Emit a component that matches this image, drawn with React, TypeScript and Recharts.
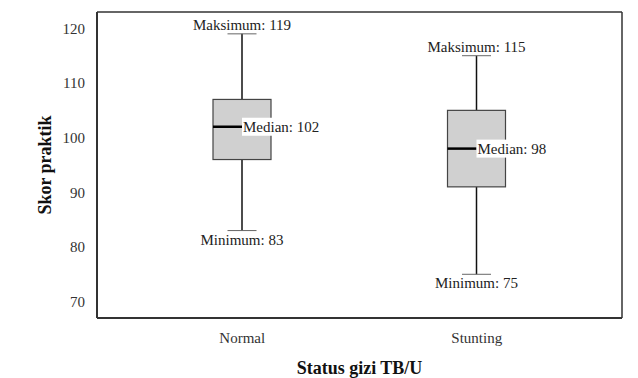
import { ComposedChart, Bar, Line, XAxis, YAxis } from "recharts";

const CATEGORIES = ["Normal", "Stunting"];
const MINIMUM = [83, 75];
const Q1 = [96, 91];
const MEDIAN = [102, 98];
const Q3 = [107, 105];
const MAXIMUM = [119, 115];
const Y_TICKS = [70, 80, 90, 100, 110, 120];
const Y_DOMAIN = [67, 123];

const FONT = "'Liberation Serif', 'Times New Roman', serif";

const data = CATEGORIES.map((name, i) => ({
  name,
  min: MINIMUM[i],
  q1: Q1[i],
  median: MEDIAN[i],
  q3: Q3[i],
  max: MAXIMUM[i],
  base: MINIMUM[i],
  span: MAXIMUM[i] - MINIMUM[i],
}));

// the stacked "span" bar covers min..max, so its height gives the pixels per unit
function BoxShape(props: any) {
  const { x, y, width, height, payload } = props;
  const { min, q1, median, q3, max } = payload;
  const ppu = height / (max - min);
  const yOf = (v: number) => y + (max - v) * ppu;
  const cx = x + width / 2;
  const capW = width / 2;
  const medY = yOf(median);
  const label = `Median: ${median}`;
  const labelW = label.length * 7 + 4;
  return (
    <g>
      <line x1={cx} x2={cx} y1={yOf(max)} y2={yOf(q3)} stroke="#111" strokeWidth={1.5} />
      <line x1={cx} x2={cx} y1={yOf(q1)} y2={yOf(min)} stroke="#111" strokeWidth={1.5} />
      <line x1={cx - capW / 2} x2={cx + capW / 2} y1={yOf(max)} y2={yOf(max)} stroke="#666" strokeWidth={1} />
      <line x1={cx - capW / 2} x2={cx + capW / 2} y1={yOf(min)} y2={yOf(min)} stroke="#666" strokeWidth={1} />
      <rect
        x={x}
        y={yOf(q3)}
        width={width}
        height={yOf(q1) - yOf(q3)}
        fill="#d0d0d0"
        stroke="#444"
        strokeWidth={1.2}
      />
      <line x1={x} x2={cx} y1={medY} y2={medY} stroke="#000" strokeWidth={2.5} />
      <rect x={cx} y={medY - 9} width={labelW} height={18} fill="#fff" />
      <text x={cx + 1} y={medY} dy={5} fontFamily={FONT} fontSize={15} fill="#222">
        {label}
      </text>
      <text x={cx} y={yOf(max)} dy={-4} textAnchor="middle" fontFamily={FONT} fontSize={15} fill="#222">
        {`Maksimum: ${max}`}
      </text>
      <text x={cx} y={yOf(min)} dy={14} textAnchor="middle" fontFamily={FONT} fontSize={15} fill="#222">
        {`Minimum: ${min}`}
      </text>
    </g>
  );
}

export default function App() {
  return (
    <div style={{ position: "absolute", left: 0, top: 0, background: "#fff" }}>
      <ComposedChart
        width={638}
        height={378}
        data={data}
        margin={{ top: 11, right: 15, bottom: 0, left: 0 }}
      >
        <XAxis
          dataKey="name"
          padding={{ left: 28, right: 28 }}
          height={60}
          tickLine={false}
          axisLine={{ stroke: "#333", strokeWidth: 2 }}
          tick={{ fontFamily: FONT, fontSize: 15, fill: "#333" }}
          tickMargin={8}
          label={{
            value: "Status gizi TB/U",
            position: "insideBottom",
            offset: 4,
            style: { fontFamily: FONT, fontSize: 18, fontWeight: "bold", fill: "#111" },
          }}
        />
        <XAxis
          xAxisId="top"
          dataKey="name"
          orientation="top"
          height={1}
          tick={false}
          tickLine={false}
          axisLine={{ stroke: "#333", strokeWidth: 1.5 }}
        />
        <YAxis
          domain={Y_DOMAIN}
          allowDataOverflow
          ticks={Y_TICKS}
          width={97}
          tickLine={false}
          axisLine={{ stroke: "#333", strokeWidth: 2 }}
          tick={{ fontFamily: FONT, fontSize: 15, fill: "#333" }}
          tickMargin={6}
          label={{
            value: "Skor praktik",
            angle: -90,
            position: "insideLeft",
            offset: 45,
            style: { fontFamily: FONT, fontSize: 18, fontWeight: "bold", fill: "#111", textAnchor: "middle" },
          }}
        />
        <YAxis
          yAxisId="right"
          orientation="right"
          domain={Y_DOMAIN}
          allowDataOverflow
          width={1}
          tick={false}
          tickLine={false}
          axisLine={{ stroke: "#333", strokeWidth: 1.5 }}
        />
        <Bar dataKey="base" stackId="box" fill="none" barSize={58} isAnimationActive={false} />
        <Bar dataKey="span" stackId="box" barSize={58} shape={BoxShape} isAnimationActive={false} />
        {/* invisible series that keeps the top and right frame axes bound */}
        <Line
          xAxisId="top"
          yAxisId="right"
          dataKey="median"
          stroke="none"
          dot={false}
          activeDot={false}
          isAnimationActive={false}
        />
      </ComposedChart>
    </div>
  );
}
